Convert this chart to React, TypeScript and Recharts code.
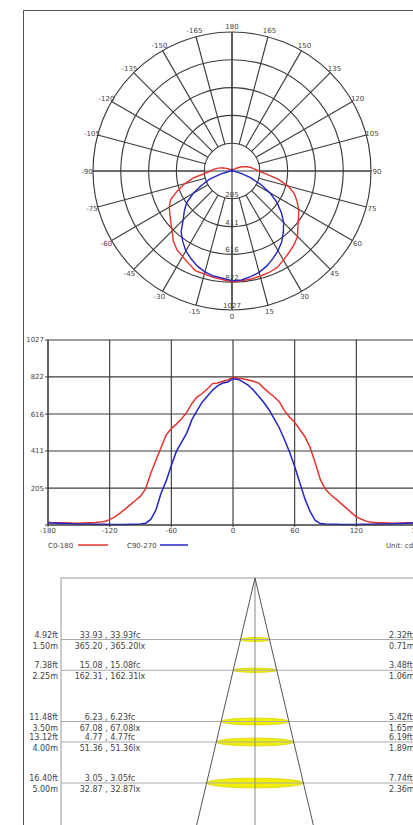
import React from 'react';
import {
  RadarChart, Radar, PolarGrid, PolarAngleAxis, PolarRadiusAxis,
  LineChart, Line, XAxis, YAxis, CartesianGrid,
  ScatterChart, ReferenceLine, ReferenceArea,
} from 'recharts';

// gamma angles (deg) and intensities (cd)
const ANGLES = [
  -180, -175, -170, -165, -160, -155, -150, -145, -140, -135, -130, -125, -120,
  -115, -110, -105, -100, -95, -90, -85, -80, -75, -70, -65, -60, -55, -50, -45,
  -40, -35, -30, -25, -20, -15, -10, -5, 0, 5, 10, 15, 20, 25, 30, 35, 40, 45,
  50, 55, 60, 65, 70, 75, 80, 85, 90, 95, 100, 105, 110, 115, 120, 125, 130,
  135, 140, 145, 150, 155, 160, 165, 170, 175, 180,
];
const C0_180 = [
  14, 13, 12, 12, 11, 10, 10, 11, 12, 13, 16, 20, 30,
  45, 66, 88, 112, 136, 160, 200, 287, 360, 430, 500, 535, 560, 590, 625,
  675, 710, 730, 755, 785, 788, 798, 805, 820, 815, 810, 805, 798, 788, 760, 735, 712, 685,
  635, 600, 570, 530, 490, 430, 345, 252, 198, 168, 145, 120, 95, 70, 45, 32, 20,
  15, 13, 12, 11, 10, 10, 11, 12, 13, 14,
];
const C90_270 = [
  12, 11, 10, 9, 8, 7, 6, 5, 5, 4, 4, 4, 3,
  3, 3, 3, 4, 4, 5, 10, 31, 83, 176, 245, 330, 410, 460, 510,
  585, 635, 682, 715, 748, 772, 788, 794, 812, 808, 793, 775, 748, 715, 680, 640, 590, 540,
  475, 405, 325, 235, 145, 75, 25, 8, 5, 4, 4, 3, 3, 3, 3, 4, 4,
  4, 5, 5, 6, 7, 8, 9, 10, 11, 12,
];
const INTENSITY_TICKS = [0, 205, 411, 616, 822, 1027];
const RING_TICKS = [205, 411, 616, 822, 1027];
const POLAR_LABELS = [-165, -150, -135, -120, -105, -90, -75, -60, -45, -30, -15, 0, 15, 30, 45, 60, 75, 90, 105, 120, 135, 150, 165, 180];
const MAIN_AXES = [-90, 0, 90, 180];
const LINEAR_TICKS = [-180, -120, -60, 0, 60, 120, 180];

// illuminance cone
const DIST_M = [1.5, 2.25, 3.5, 4, 5];
const DIST_FT = ['4.92', '7.38', '11.48', '13.12', '16.40'];
const FC = ['33.93', '15.08', '6.23', '4.77', '3.05'];
const LX = ['365.20', '162.31', '67.08', '51.36', '32.87'];
const DIAM_FT = ['2.32', '3.48', '5.42', '6.19', '7.74'];
const DIAM_M = [0.71, 1.06, 1.65, 1.89, 2.36];

const SERIES = [
  { key: 'c0', name: 'C0-180', color: '#e3342f' },
  { key: 'c90', name: 'C90-270', color: '#2424c8' },
];

const data = ANGLES.map((a, i) => ({ angle: a, c0: C0_180[i], c90: C90_270[i] }));

const FONT = '"DejaVu Sans", Verdana, sans-serif';
const TXT = '#444';
const GRID = '#3c3c3c';

const CX = 232;
const CY = 171;
const R_OUT = 139;
const R_IN = (R_OUT * 205) / 1027;

const AngleTick = (props: any) => (
  <text x={props.x} y={props.y} dy={2.5} textAnchor="middle" fontSize={7} fill={TXT}>
    {props.payload.value}
  </text>
);

const RadiusTick = (props: any) => (
  <text x={props.x} y={props.y - 2} textAnchor="middle" fontSize={7} fill={TXT}>
    {props.payload.value}
  </text>
);

function PolarPlot() {
  return (
    <div style={{ position: 'absolute', left: 0, top: 0, width: 413, height: 330 }}>
      {/* spokes + rings, starting at the 205 ring */}
      <div style={{ position: 'absolute', left: 0, top: 0 }}>
        <RadarChart width={413} height={330} data={data} cx={CX} cy={CY}
          innerRadius={R_IN} outerRadius={R_OUT} startAngle={90} endAngle={450}>
          <PolarGrid gridType="circle" stroke={GRID} strokeWidth={1.15} />
          <PolarAngleAxis dataKey="angle" type="number" domain={[-180, 180]} ticks={POLAR_LABELS as any}
            tick={AngleTick} tickLine={false} axisLine={false} tickSize={6} />
          <PolarRadiusAxis angle={270} type="number" domain={[205, 1027]} ticks={RING_TICKS as any}
            tick={RadiusTick} axisLine={false} tickLine={false} allowDataOverflow />
        </RadarChart>
      </div>
      {/* main axes through the centre + curves */}
      <div style={{ position: 'absolute', left: 0, top: 0 }}>
        <RadarChart width={413} height={330} data={data} cx={CX} cy={CY}
          innerRadius={0} outerRadius={R_OUT} startAngle={90} endAngle={450}>
          <PolarGrid gridType="circle" stroke={GRID} strokeWidth={1.15} polarRadius={[]} />
          <PolarAngleAxis dataKey="angle" type="number" domain={[-180, 180]} ticks={MAIN_AXES as any}
            tick={false} tickLine={false} axisLine={false} />
          <PolarRadiusAxis angle={270} type="number" domain={[0, 1027]} ticks={INTENSITY_TICKS as any}
            tick={false} axisLine={false} tickLine={false} allowDataOverflow />
          {SERIES.map(s => (
            <Radar key={s.key} dataKey={s.key} stroke={s.color} strokeWidth={1.4}
              fill="none" fillOpacity={0} dot={false} isAnimationActive={false} />
          ))}
        </RadarChart>
      </div>
    </div>
  );
}

function LinearPlot() {
  return (
    <div style={{ position: 'absolute', left: 0, top: 320 }}>
      <LineChart width={470} height={240} data={data}
        margin={{ top: 20, right: 52, bottom: 15, left: 18 }}>
        <CartesianGrid stroke={GRID} strokeWidth={1.15} />
        <XAxis dataKey="angle" type="number" domain={[-180, 180]} ticks={LINEAR_TICKS}
          tick={{ fontSize: 7, fill: TXT }} tickSize={2} tickMargin={1} height={20}
          stroke={GRID} interval={0} />
        <YAxis type="number" domain={[0, 1027]} ticks={INTENSITY_TICKS} width={30}
          tick={{ fontSize: 7, fill: TXT }} tickSize={3} tickMargin={1} stroke={GRID}
          tickFormatter={(v: number) => (v === 0 ? '' : String(v))} interval={0} />
        {SERIES.map(s => (
          <Line key={s.key} dataKey={s.key} stroke={s.color} strokeWidth={1.5}
            dot={false} type="linear" isAnimationActive={false} />
        ))}
      </LineChart>
      <svg width={413} height={20} style={{ position: 'absolute', left: 0, top: 216 }}>
        <g fontSize={7} fill={TXT}>
          <text x={48} y={11.5}>{SERIES[0].name}</text>
          <line x1={78} x2={108} y1={9} y2={9} stroke={SERIES[0].color} strokeWidth={1.5} />
          <text x={127} y={11.5}>{SERIES[1].name}</text>
          <line x1={160} x2={188} y1={9} y2={9} stroke={SERIES[1].color} strokeWidth={1.5} />
          <text x={386} y={11.5}>Unit: cd</text>
        </g>
      </svg>
    </div>
  );
}

const X_HALF = 4.73;
const Y_MAX = 6.5;

const distLabel = (i: number) => (props: any) => {
  const vb = props.viewBox || {};
  const x = vb.x;
  const y = vb.y;
  return (
    <g fontSize={8} fill={TXT}>
      <text x={x - 3} y={y - 2} textAnchor="end">{DIST_FT[i]}ft</text>
      <text x={x - 3} y={y + 9} textAnchor="end">{DIST_M[i].toFixed(2)}m</text>
      <text x={x + 49} y={y - 2} textAnchor="middle">{FC[i]} , {FC[i]}fc</text>
      <text x={x + 49} y={y + 9} textAnchor="middle">{LX[i]} , {LX[i]}lx</text>
      <text x={x + 328} y={y - 2}>{DIAM_FT[i]}ft</text>
      <text x={x + 328} y={y + 9}>{DIAM_M[i].toFixed(2)}m</text>
    </g>
  );
};

const EllipseShape = (props: any) => {
  const rx = props.width / 2;
  const ry = Math.max(2, rx * 0.1);
  return (
    <ellipse cx={props.x + rx} cy={props.y + props.height / 2} rx={rx} ry={ry}
      fill="#f2f000" stroke="#d8d400" strokeWidth={0.8} />
  );
};

function ConePlot() {
  const last = DIST_M.length - 1;
  const slope = DIAM_M[last] / 2 / DIST_M[last];
  return (
    <div style={{ position: 'absolute', left: 0, top: 560 }}>
      <ScatterChart width={470} height={300} margin={{ top: 18, right: 21, bottom: 15.5, left: 61 }}>
        <XAxis type="number" dataKey="x" domain={[-X_HALF, X_HALF]} hide allowDataOverflow />
        <YAxis type="number" dataKey="y" domain={[0, Y_MAX]} reversed hide allowDataOverflow />
        <ReferenceLine y={0} stroke="#999" strokeWidth={1} />
        <ReferenceLine x={-X_HALF} stroke="#999" strokeWidth={1} />
        <ReferenceLine x={0} stroke="#888" strokeWidth={1} />
        {DIST_M.map((d, i) => (
          <ReferenceLine key={'l' + d} y={d} stroke="#aaa" strokeWidth={1} label={distLabel(i)} />
        ))}
        {DIST_M.map((d, i) => (
          <ReferenceArea key={'e' + d} x1={-DIAM_M[i] / 2} x2={DIAM_M[i] / 2} y1={d - 0.05} y2={d + 0.05}
            shape={EllipseShape} ifOverflow="visible" />
        ))}
        <ReferenceLine segment={[{ x: 0, y: 0 }, { x: -slope * Y_MAX, y: Y_MAX }]} stroke="#555" strokeWidth={1} />
        <ReferenceLine segment={[{ x: 0, y: 0 }, { x: slope * Y_MAX, y: Y_MAX }]} stroke="#555" strokeWidth={1} />
      </ScatterChart>
    </div>
  );
}

export default function App() {
  return (
    <div style={{ position: 'absolute', left: 0, top: 0, width: 413, height: 825, overflow: 'hidden', background: '#fff', fontFamily: FONT }}>
      <div style={{ position: 'absolute', left: 23, top: 10, width: 600, height: 900, borderLeft: '1px solid #555', borderTop: '1px solid #555' }} />
      <PolarPlot />
      <LinearPlot />
      <ConePlot />
    </div>
  );
}
